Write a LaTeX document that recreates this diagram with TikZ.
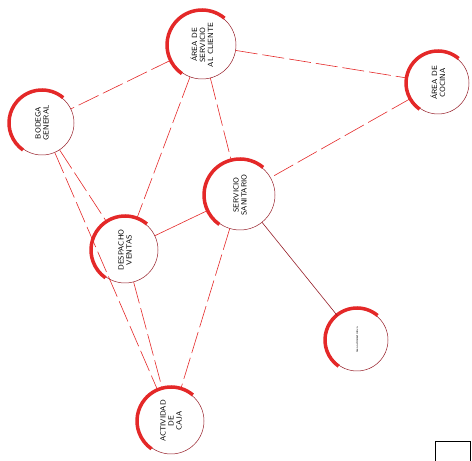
\documentclass[tikz,border=0pt]{standalone}
\usepackage{tikz}
\usetikzlibrary{positioning,calc}

\definecolor{linered}{RGB}{228,40,40}
\definecolor{ringred}{RGB}{150,30,40}

\begin{document}
\begin{tikzpicture}[x=1pt,y=1pt,
    zone/.style={circle,draw=ringred,line width=0.5pt,fill=white,inner sep=0pt,
      align=center,rotate=90,font=\sffamily\fontsize{7.5}{8}\selectfont},
    redarc/.style={draw=linered,line width=3.5pt},
    link/.style={draw=linered,line width=0.6pt,dash pattern=on 22pt off 5pt},
    solidlink/.style={draw=linered,line width=0.6pt}]
    \useasboundingbox (0,0) rectangle (472,461);
    % Zones
    \node[zone,minimum size=68pt] (cliente) at (202,416) {ÁREA DE\\SERVICIO\\AL CLIENTE};
    \node[zone,minimum size=64pt] (bodega) at (42,338) {BODEGA\\GENERAL};
    \node[zone,minimum size=62pt] (cocina) at (438,378) {ÁREA DE\\COCINA};
    \node[zone,minimum size=70pt] (sanitario) at (240,266) {SERVICIO\\SANITARIO};
    \node[zone,minimum size=66pt] (despacho) at (125,211) {DESPACHO\\VENTAS};
    \node[zone,minimum size=62pt,font=\sffamily\fontsize{3}{3}\selectfont] (admin) at (357,121) {área administrativa};
    \node[zone,minimum size=66pt] (caja) at (171,40) {ACTIVIDAD\\DE\\CAJA};
    % Red arcs on the upper left side
    \foreach \n/\r in {cliente/34,bodega/32,cocina/31,sanitario/35,despacho/33,admin/31,caja/33}
      \draw[redarc] (\n) ++(50:\r+1) arc[start angle=50,end angle=235,radius=\r+1];
    % Links
    \draw[link] (cliente) -- (bodega);
    \draw[link] (cliente) -- (cocina);
    \draw[link] (cliente) -- (sanitario);
    \draw[link] (cliente) -- (despacho);
    \draw[link] (bodega) -- (despacho);
    \draw[link] (bodega) -- (caja);
    \draw[link] (cocina) -- (sanitario);
    \draw[solidlink] (sanitario) -- (despacho);
    \draw[solidlink,draw=ringred] (sanitario) -- (admin);
    \draw[link] (sanitario) -- (caja);
    \draw[link] (despacho) -- (caja);
    % Box in the corner
    \draw[line width=0.5pt] (435,0) -- (435,20) -- (470,20) -- (470,0);
\end{tikzpicture}
\end{document}
